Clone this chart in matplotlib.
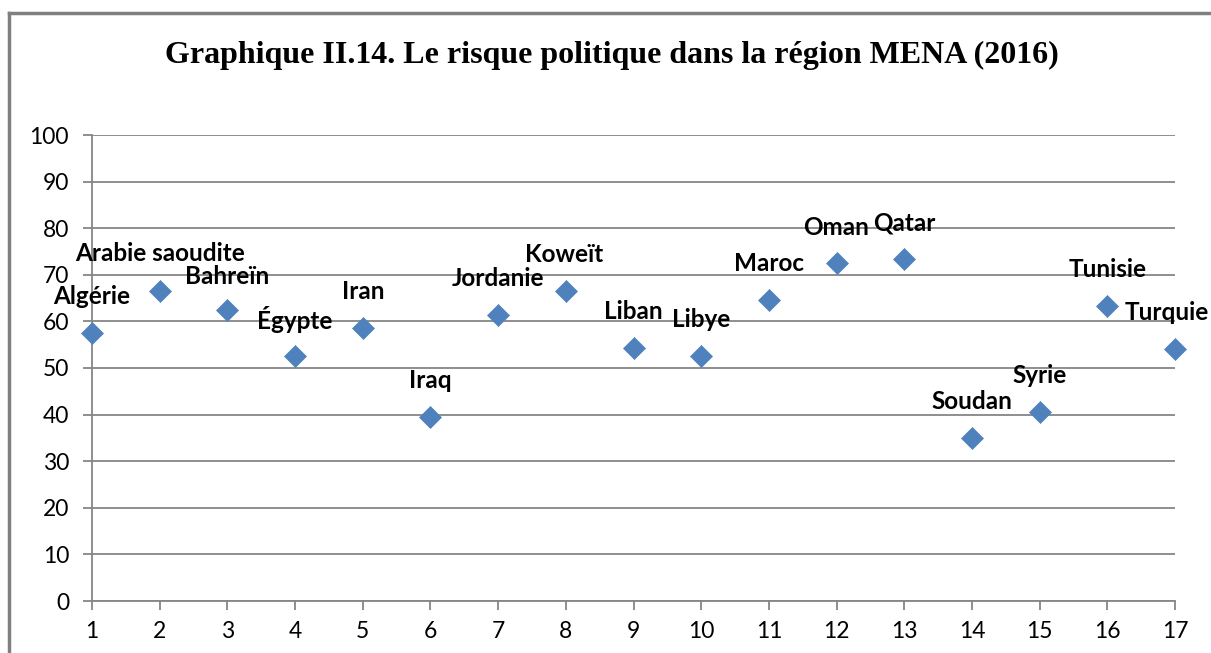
#!/usr/bin/env python3
"""Graphique II.14 -- risque politique dans la région MENA (2016)."""

import matplotlib
matplotlib.use("Agg")
import matplotlib.pyplot as plt
from matplotlib.lines import Line2D

# ── data ────────────────────────────────────────────────────────────
positions = list(range(1, 18))
countries = [
    "Algérie", "Arabie saoudite", "Bahreïn", "Égypte", "Iran", "Iraq",
    "Jordanie", "Koweït", "Liban", "Libye", "Maroc", "Oman", "Qatar",
    "Soudan", "Syrie", "Tunisie", "Turquie",
]
risk_scores = [57.5, 66.5, 62.4, 52.6, 58.6, 39.5, 61.4, 66.5, 54.3,
               52.6, 64.6, 72.5, 73.4, 35.0, 40.6, 63.3, 54.1]
y_ticks = list(range(0, 101, 10))

# label nudges (points), everything else sits straight above its marker
label_dx = {"Turquie": -6, "Koweït": -1.5}
label_dy = {"Arabie saoudite": 27, "Bahreïn": 24.5}

blue = "#4F81BD"
grid_clr = "#868686"

fig = plt.figure(figsize=(12.11, 6.53), dpi=100)
ax = fig.add_axes([92 / 1211, 52 / 653, 1083 / 1211, 466 / 653])

ax.scatter(positions, risk_scores, marker="D", s=125, color=blue,
           edgecolors=blue, linewidths=0.5, zorder=3, clip_on=False)

for x, y, name in zip(positions, risk_scores, countries):
    ax.annotate(name, (x, y),
                xytext=(label_dx.get(name, 0), label_dy.get(name, 26)),
                textcoords="offset points", ha="center", va="center",
                fontsize=17.5, fontweight="bold", family="Lato",
                color="black", annotation_clip=False)

ax.set_xlim(1, 17)
ax.set_ylim(0, 100)
ax.set_xticks(positions)
ax.set_yticks(y_ticks)
ax.yaxis.grid(True, color=grid_clr, lw=1.3)
ax.set_axisbelow(True)

for side in ("top", "right"):
    ax.spines[side].set_visible(False)
for side in ("left", "bottom"):
    ax.spines[side].set_color(grid_clr)
    ax.spines[side].set_linewidth(1.3)

ax.tick_params(axis="both", colors=grid_clr, width=1.3, length=6.5,
               labelcolor="black", labelsize=16.5)
ax.tick_params(axis="y", pad=10)
ax.tick_params(axis="x", pad=8)
for lbl in ax.get_xticklabels() + ax.get_yticklabels():
    lbl.set_family("Lato")

fig.text(612 / 1211, 1 - 55 / 653,
         "Graphique II.14. Le risque politique dans la région MENA (2016)",
         ha="center", va="center", fontsize=23, fontweight="bold",
         family="Liberation Serif")

# outer frame (cropped on right and bottom)
frame_clr = "#808080"
fig.add_artist(Line2D([9 / 1211, 9 / 1211], [0, 1 - 13 / 653],
                      transform=fig.transFigure, color=frame_clr, lw=2.5))
fig.add_artist(Line2D([9 / 1211, 1], [1 - 13 / 653, 1 - 13 / 653],
                      transform=fig.transFigure, color=frame_clr, lw=2.5))

fig.savefig("out.png", dpi=100, facecolor="white")
plt.close(fig)
